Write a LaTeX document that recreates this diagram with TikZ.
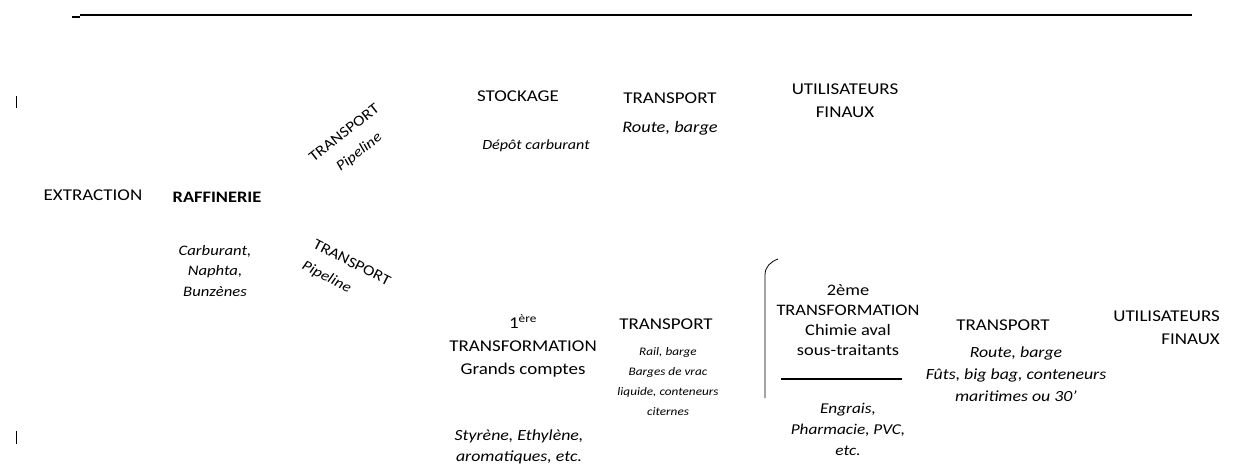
\documentclass[tikz,border=0pt]{standalone}
\usepackage{fontspec}
\setmainfont{Carlito}[FakeStretch=1.15]
\usetikzlibrary{positioning}

\tikzset{
  lbl/.style={align=center, inner sep=1pt, font=\fontsize{16.5}{23}\selectfont},
  desc/.style={align=center, inner sep=1pt, font=\fontsize{14.5}{20.5}\selectfont\itshape},
  smalldesc/.style={align=center, inner sep=1pt, font=\fontsize{11.5}{20}\selectfont\itshape},
  pipe/.style={inner sep=1pt, font=\fontsize{15}{24}\selectfont},
}

\begin{document}
\begin{tikzpicture}[x=1pt, y=-1pt]
        \useasboundingbox (0,0) rectangle (1240,466);
        % top rule and margin ticks
        \draw[line width=1.3pt] (80,15) -- (1192,15);
        \draw[line width=1.3pt] (72,17) -- (80,17);
        \draw[line width=1pt] (16,96) -- (16,108);
        \draw[line width=1pt] (16,431) -- (16,444);
        % upstream
        \node[lbl] (extraction) at (93,195) {EXTRACTION};
        \node[lbl, font=\fontsize{16}{23}\selectfont\bfseries] (raffinerie) at (217,197) {RAFFINERIE};
        \node[desc] (raffprod) at (215,271) {Carburant,\\Naphta,\\Bunzènes};
        \node[pipe, align=center, rotate=38] (pipeup) at (352,143) {TRANSPORT\\\textit{\fontsize{14.5}{24}\selectfont Pipeline}};
        \node[pipe, align=left, rotate=-27] (pipedown) at (346,274) {TRANSPORT\\\textit{\fontsize{14.5}{24}\selectfont Pipeline}};
        % fuel branch
        \node[lbl] (stockage) at (518,96) {STOCKAGE};
        \node[desc, font=\fontsize{14}{20}\selectfont\itshape] (depot) at (536,146) {Dépôt carburant};
        \node[lbl] (transup) at (670,98) {TRANSPORT};
        \node[desc, font=\fontsize{16}{20}\selectfont\itshape] (routeup) at (670,128) {Route, barge};
        \node[lbl] (usersup) at (845,101) {UTILISATEURS\\FINAUX};
        % chemical branch
        \node[lbl] (trans1) at (523,346) {1\textsuperscript{ère}\\TRANSFORMATION\\Grands comptes};
        \node[desc, font=\fontsize{15.5}{21}\selectfont\itshape] (prod1) at (519,447) {Styrène, Ethylène,\\aromatiques, etc.};
        \node[lbl] (transmid) at (666,324) {TRANSPORT};
        \node[smalldesc] (railmid) at (668,382) {Rail, barge\\Barges de vrac\\liquide, conteneurs\\citernes};
        \draw[line width=0.8pt] (765,398) -- (765,275) to[out=90, in=200] (778,259);
        \node[lbl, font=\fontsize{16}{20}\selectfont] (trans2) at (848,320) {2ème\\TRANSFORMATION\\Chimie aval\\sous-traitants};
        \draw[line width=2.4pt] (781,379) -- (902,379);
        \node[desc, font=\fontsize{15}{21}\selectfont\itshape] (prod2) at (848,429) {Engrais,\\Pharmacie, PVC,\\etc.};
        \node[lbl] (transdown) at (1003,325) {TRANSPORT};
        \node[desc, font=\fontsize{15.5}{22}\selectfont\itshape] (routedown) at (1016,374) {Route, barge\\Fûts, big bag, conteneurs\\maritimes ou 30'};
        \node[lbl, align=right, anchor=east] (usersdown) at (1221,328) {UTILISATEURS\\FINAUX};
      \end{tikzpicture}
\end{document}
